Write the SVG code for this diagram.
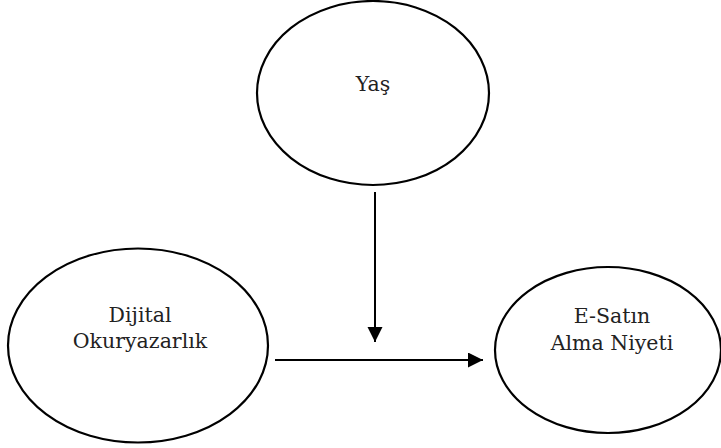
<svg xmlns="http://www.w3.org/2000/svg" width="721" height="448" viewBox="0 0 721 448">
<defs>
<marker id="ah" markerWidth="16" markerHeight="16" refX="15" refY="7.5" orient="auto" markerUnits="userSpaceOnUse">
<path d="M0,0 L15,7.5 L0,15 Z" fill="#000"/>
</marker>
<style>
.node ellipse{fill:#fff;stroke:#000;stroke-width:2.2}
.node text{font-family:"DejaVu Serif","Liberation Serif",serif;font-size:20.5px;fill:#222;text-anchor:middle}
.conn line{stroke:#000;stroke-width:2}
</style>
</defs>
<rect width="721" height="448" fill="#fff"/>
<g id="yas" class="node">
<ellipse cx="373" cy="93" rx="116" ry="92"/>
<text x="373" y="91">Yaş</text>
</g>
<g id="dijital" class="node">
<ellipse cx="138" cy="345.5" rx="130" ry="97"/>
<text x="140" y="322">Dijital</text>
<text x="140" y="348">Okuryazarlık</text>
</g>
<g id="esatin" class="node">
<ellipse cx="608" cy="350" rx="113" ry="83"/>
<text x="612" y="323">E-Satın</text>
<text x="612" y="350">Alma Niyeti</text>
</g>
<g id="connectors" class="conn">
<line x1="375" y1="192" x2="375" y2="342" marker-end="url(#ah)"/>
<line x1="275" y1="360" x2="483" y2="360" marker-end="url(#ah)"/>
</g>
</svg>
